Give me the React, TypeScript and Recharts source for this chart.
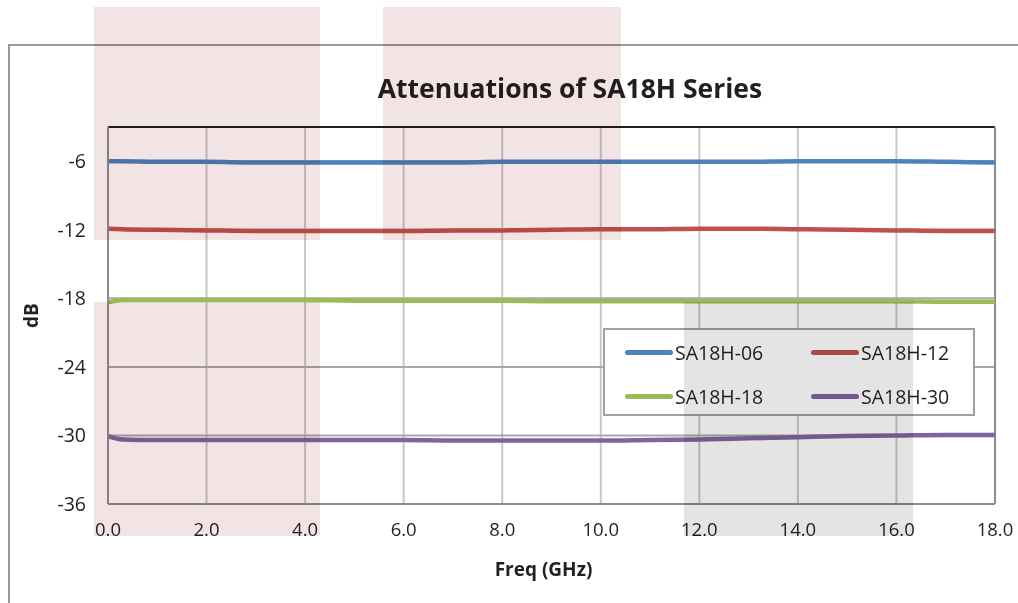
import {
  LineChart,
  Line,
  XAxis,
  YAxis,
  CartesianGrid,
  ReferenceLine,
} from "recharts";

const freqs = [0, 0.3, 1, 2, 3, 4, 5, 6, 7, 8, 9, 10, 11, 12, 13, 14, 15, 16, 17, 18];
const sa06 = [-6.0, -6.0, -6.05, -6.05, -6.1, -6.1, -6.1, -6.1, -6.1, -6.05, -6.05, -6.05, -6.05, -6.05, -6.05, -6.0, -6.0, -6.0, -6.05, -6.1];
const sa12 = [-11.9, -11.95, -12.0, -12.05, -12.1, -12.1, -12.1, -12.1, -12.05, -12.05, -12.0, -11.95, -11.95, -11.9, -11.9, -11.95, -12.0, -12.05, -12.1, -12.1];
const sa18 = [-18.35, -18.15, -18.15, -18.15, -18.15, -18.15, -18.2, -18.2, -18.2, -18.2, -18.25, -18.25, -18.25, -18.25, -18.25, -18.25, -18.25, -18.25, -18.3, -18.3];
const sa30 = [-30.05, -30.35, -30.4, -30.4, -30.4, -30.4, -30.4, -30.4, -30.45, -30.45, -30.45, -30.45, -30.4, -30.35, -30.25, -30.15, -30.05, -30.0, -29.95, -29.95];

const xTicks = [0, 2, 4, 6, 8, 10, 12, 14, 16, 18];
const yTicks = [-36, -30, -24, -18, -12, -6];

const series = [
  { key: "sa06", name: "SA18H-06", color: "#4f81bd" },
  { key: "sa12", name: "SA18H-12", color: "#c0504d" },
  { key: "sa18", name: "SA18H-18", color: "#9bbb59" },
  { key: "sa30", name: "SA18H-30", color: "#8064a2" },
];

const data = freqs.map((f, i) => ({
  freq: f,
  sa06: sa06[i],
  sa12: sa12[i],
  sa18: sa18[i],
  sa30: sa30[i],
}));

const FONT = "'Open Sans', sans-serif";

function LegendBox() {
  return (
    <div
      style={{
        position: "absolute",
        left: 603,
        top: 328,
        width: 372,
        height: 88,
        border: "2px solid #a0a0a0",
        background: "#fff",
        display: "grid",
        gridTemplateColumns: "186px 184px",
        gridTemplateRows: "44px 44px",
        fontFamily: FONT,
        fontSize: 19.5,
        color: "#231f20",
        boxSizing: "border-box",
      }}
    >
      {series.map((s) => (
        <div key={s.key} style={{ display: "flex", alignItems: "center", paddingLeft: 20 }}>
          <div style={{ width: 48, height: 5, borderRadius: 2.5, background: s.color, marginRight: 2 }} />
          <span>{s.name}</span>
        </div>
      ))}
    </div>
  );
}

const overlays = [
  { left: 94, top: 7, width: 226, height: 233, color: "#f2e4e5" },
  { left: 383, top: 7, width: 238, height: 233, color: "#f2e4e5" },
  { left: 94, top: 302, width: 226, height: 234, color: "#f2e4e5" },
  { left: 684, top: 302, width: 229, height: 234, color: "#e4e4e4" },
];

export default function App() {
  return (
    <div style={{ position: "absolute", left: 0, top: 0, width: 1018, height: 603, background: "#fff", overflow: "hidden" }}>
      <div style={{ position: "absolute", left: 8, top: 44, width: 1010, height: 559, borderLeft: "2px solid #9a9a9a", borderTop: "2px solid #9a9a9a" }} />
      <div
        style={{
          position: "absolute",
          left: 0,
          width: 1140,
          top: 70,
          textAlign: "center",
          fontFamily: FONT,
          fontWeight: 700,
          fontSize: 26.5,
          color: "#231f20",
        }}
      >
        Attenuations of SA18H Series
      </div>
      <LineChart
        width={1018}
        height={603}
        data={data}
        margin={{ top: 127, right: 23, bottom: 0, left: 0 }}
        style={{ position: "absolute", left: 0, top: 0 }}
      >
        <CartesianGrid horizontal={false} stroke="#c8c8c8" strokeWidth={2} />
        <CartesianGrid vertical={false} stroke="#a8a8a8" strokeWidth={2} />
        <XAxis
          dataKey="freq"
          type="number"
          domain={[0, 18]}
          ticks={xTicks}
          tickFormatter={(v) => v.toFixed(1)}
          tickLine={false}
          tickSize={0}
          tickMargin={19}
          height={99}
          axisLine={{ stroke: "#8c8c8c", strokeWidth: 2 }}
          tick={{ fill: "#231f20", fontSize: 18.5, fontFamily: FONT }}
          label={{ value: "Freq (GHz)", position: "insideTop", offset: 59, dx: -8, style: { fill: "#231f20", fontSize: 19, fontWeight: 700, fontFamily: FONT } }}
        />
        <YAxis
          type="number"
          domain={[-36, -3]}
          ticks={yTicks}
          tickLine={false}
          tickSize={0}
          tickMargin={22}
          width={108}
          axisLine={{ stroke: "#8c8c8c", strokeWidth: 2 }}
          tick={{ fill: "#231f20", fontSize: 19.5, fontFamily: FONT }}
          label={{ value: "dB", angle: -90, position: "insideLeft", offset: 31, style: { fill: "#231f20", fontSize: 19, fontWeight: 700, fontFamily: FONT, textAnchor: "middle" } }}
        />
        <ReferenceLine y={-3} stroke="#231f20" strokeWidth={2} />
        <ReferenceLine x={18} stroke="#8c8c8c" strokeWidth={2} />
        {series.map((s) => (
          <Line
            key={s.key}
            dataKey={s.key}
            name={s.name}
            type="monotone"
            stroke={s.color}
            strokeWidth={4.5}
            dot={false}
            isAnimationActive={false}
          />
        ))}
      </LineChart>
      <LegendBox />
      {overlays.map((o, i) => (
        <div
          key={i}
          style={{
            position: "absolute",
            left: o.left,
            top: o.top,
            width: o.width,
            height: o.height,
            background: o.color,
            mixBlendMode: "multiply",
            pointerEvents: "none",
          }}
        />
      ))}
    </div>
  );
}
